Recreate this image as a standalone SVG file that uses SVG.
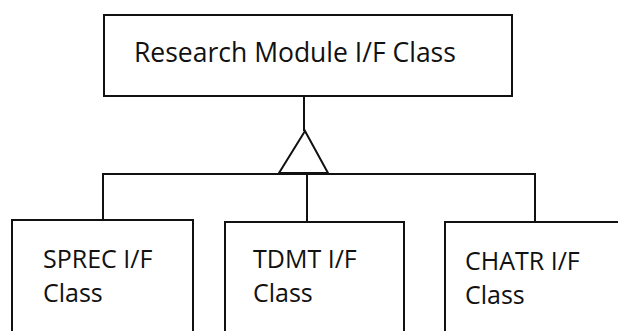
<svg xmlns="http://www.w3.org/2000/svg" width="618" height="331" viewBox="0 0 618 331">
<style>
.box{fill:#fff;stroke:#111;stroke-width:2}
.ln{fill:none;stroke:#111;stroke-width:2}
.t{font-family:"Open Sans","Liberation Sans",sans-serif;font-size:25px;fill:#111}
.h{font-size:26.5px}
</style>
<rect width="618" height="331" fill="#fff"/>
<g id="connectors">
<line class="ln" x1="304" y1="96" x2="304" y2="131"/>
<polygon class="ln" points="305,131 279,173 328,173"/>
<polyline class="ln" points="103,220 103,174 535,174 535,222"/>
<line class="ln" x1="307" y1="174" x2="307" y2="222"/>
</g>
<g id="research">
<rect class="box" x="104" y="15" width="408" height="81"/>
<text class="t h" x="134" y="62">Research Module I/F Class</text>
</g>
<g id="sprec">
<rect class="box" x="12" y="220" width="181" height="120"/>
<text class="t" x="43" y="268">SPREC I/F</text>
<text class="t" x="43" y="302">Class</text>
</g>
<g id="tdmt">
<rect class="box" x="225" y="222" width="179" height="120"/>
<text class="t" x="253" y="268">TDMT I/F</text>
<text class="t" x="253" y="302">Class</text>
</g>
<g id="chatr">
<rect class="box" x="445" y="222" width="190" height="120"/>
<text class="t" x="465" y="270">CHATR I/F</text>
<text class="t" x="465" y="304">Class</text>
</g>
</svg>
